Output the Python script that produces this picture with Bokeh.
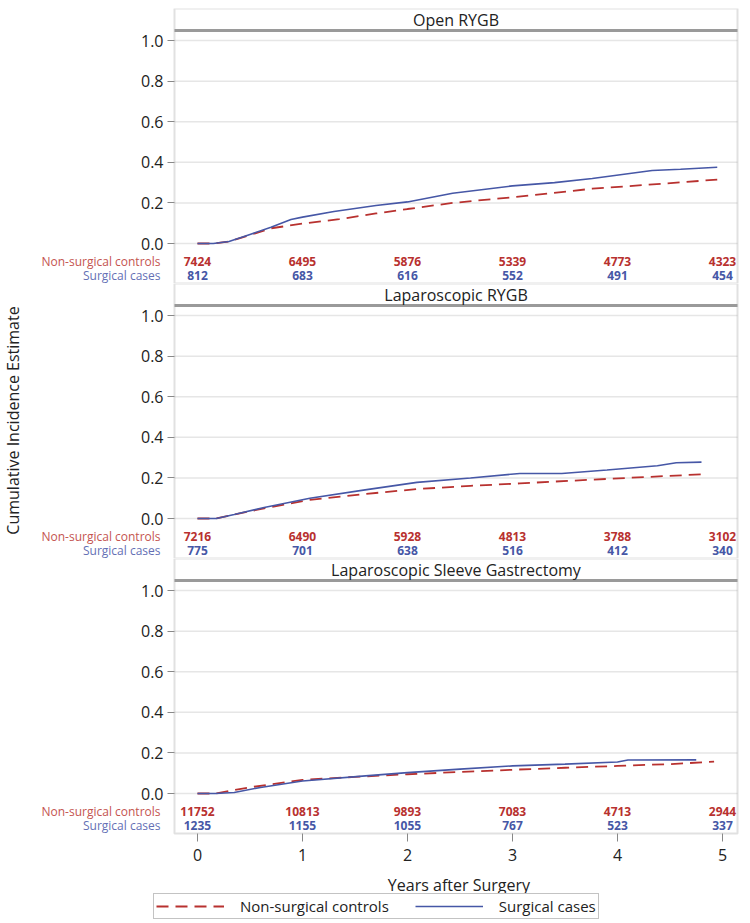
import math
from bokeh.plotting import figure
from bokeh.layouts import column
from bokeh.models import (Range1d, FixedTicker, Label, Legend, LegendItem, LinearAxis,
                          ColumnDataSource, PrintfTickFormatter, BoxAnnotation)
from bokeh.core.properties import value
from bokeh.embed import file_html
from bokeh.resources import INLINE

# ---------------- data ----------------
panel_titles = ["Open RYGB", "Laparoscopic RYGB", "Laparoscopic Sleeve Gastrectomy"]
series_names = ["Non-surgical controls", "Surgical cases"]
risk_times = [0, 1, 2, 3, 4, 5]

# Open RYGB
open_surg_t = [0, 0.15, 0.3, 0.5, 0.7, 0.89, 1.0, 1.3, 1.7, 2.0, 2.43, 3.0, 3.4, 3.76, 4.33, 4.6, 4.95]
open_surg_y = [0, 0, 0.01, 0.045, 0.08, 0.118, 0.13, 0.158, 0.187, 0.205, 0.248, 0.284, 0.30, 0.32, 0.36, 0.366, 0.376]
open_ctrl_t = [0, 0.15, 0.3, 0.5, 0.7, 1.0, 1.35, 1.7, 2.0, 2.43, 3.0, 3.76, 4.3, 4.95]
open_ctrl_y = [0, 0, 0.01, 0.042, 0.075, 0.098, 0.12, 0.148, 0.17, 0.2, 0.228, 0.27, 0.29, 0.315]
open_risk_ctrl = [7424, 6495, 5876, 5339, 4773, 4323]
open_risk_surg = [812, 683, 616, 552, 491, 454]

# Laparoscopic RYGB
lap_surg_t = [0, 0.18, 0.35, 0.635, 1.07, 1.58, 2.09, 2.6, 3.07, 3.47, 3.9, 4.38, 4.56, 4.8]
lap_surg_y = [0, 0, 0.02, 0.054, 0.1, 0.14, 0.178, 0.2, 0.222, 0.222, 0.239, 0.26, 0.275, 0.278]
lap_ctrl_t = [0, 0.18, 0.35, 0.635, 1.07, 1.58, 2.09, 2.6, 3.07, 3.55, 4.09, 4.85]
lap_ctrl_y = [0, 0, 0.02, 0.05, 0.092, 0.12, 0.145, 0.161, 0.173, 0.186, 0.2, 0.219]
lap_risk_ctrl = [7216, 6490, 5928, 4813, 3788, 3102]
lap_risk_surg = [775, 701, 638, 516, 412, 340]

# Laparoscopic Sleeve Gastrectomy
lsg_surg_t = [0, 0.17, 0.35, 0.6, 1.0, 1.6, 2.0, 2.5, 3.0, 3.5, 4.0, 4.1, 4.75]
lsg_surg_y = [0, 0, 0.005, 0.03, 0.062, 0.087, 0.103, 0.12, 0.136, 0.145, 0.155, 0.165, 0.166]
lsg_ctrl_t = [0, 0.17, 0.49, 1.0, 1.5, 2.0, 2.5, 3.0, 3.5, 4.0, 4.5, 4.92]
lsg_ctrl_y = [0, 0, 0.03, 0.067, 0.082, 0.095, 0.106, 0.117, 0.127, 0.136, 0.145, 0.157]
lsg_risk_ctrl = [11752, 10813, 9893, 7083, 4713, 2944]
lsg_risk_surg = [1235, 1155, 1055, 767, 523, 337]

y_ticks = [0.0, 0.2, 0.4, 0.6, 0.8, 1.0]
x_ticks = [0, 1, 2, 3, 4, 5]
x_title = "Years after Surgery"
y_title = "Cumulative Incidence Estimate"

panels = [
    (open_ctrl_t, open_ctrl_y, open_surg_t, open_surg_y, open_risk_ctrl, open_risk_surg),
    (lap_ctrl_t, lap_ctrl_y, lap_surg_t, lap_surg_y, lap_risk_ctrl, lap_risk_surg),
    (lsg_ctrl_t, lsg_ctrl_y, lsg_surg_t, lsg_surg_y, lsg_risk_ctrl, lsg_risk_surg),
]

# ---------------- style / layout ----------------
FONT = "Open Sans"
RED = "#B8312F"
BLUE = "#4657A6"
RED_LBL = "#C45450"
BLUE_LBL = "#6470B5"
GRAY = "#9a9a9a"
TXT = "#222222"
XR = (-1.876, 5.162)           # frame spans the whole width (incl. at-risk labels area)
BOX_L, BOX_R = -0.219, 5.143   # visible panel box
BOX_B, BOX_T = -0.197, 1.158
PX = (BOX_T - BOX_B) / 275.0   # data units per pixel
EXTRA = 90                     # px below last panel for axis, title, legend
ROW1, ROW2 = -0.089, -0.158

figs = []
for i, (ct, cy, st, sy, rc, rs) in enumerate(panels):
    last = (i == 2)
    ybot = BOX_B - EXTRA * PX if last else BOX_B
    p = figure(frame_width=739, frame_height=275 + (EXTRA if last else 0),
               x_range=Range1d(*XR), y_range=Range1d(ybot, BOX_T),
               output_backend="svg", toolbar_location=None,
               x_axis_location=None, y_axis_location=None,
               min_border_left=0, min_border_right=0,
               min_border_top=8 if i == 0 else 0, min_border_bottom=0,
               background_fill_color="white", border_fill_color="white")
    p.outline_line_color = None
    p.grid.visible = False

    # grid lines restricted to the panel box
    p.segment(x0=[BOX_L] * len(y_ticks), x1=[BOX_R] * len(y_ticks), y0=y_ticks, y1=y_ticks,
              line_color="#e6e6e6", line_width=1.5)

    # y axis drawn at the panel's left edge
    ya = LinearAxis(fixed_location=BOX_L)
    ya.ticker = FixedTicker(ticks=y_ticks)
    ya.formatter = PrintfTickFormatter(format="%.1f")
    ya.axis_line_color = None
    ya.major_tick_out = 7
    ya.major_tick_in = 0
    ya.minor_tick_line_color = None
    ya.major_tick_line_color = "#888888"
    ya.major_label_text_font = FONT
    ya.major_label_text_font_size = "16px"
    ya.major_label_text_color = TXT
    ya.major_label_standoff = 4
    p.add_layout(ya, "left")

    if last:
        xa = LinearAxis(fixed_location=BOX_B)
        xa.ticker = FixedTicker(ticks=x_ticks)
        xa.axis_line_color = None
        xa.major_tick_out = 8
        xa.major_tick_in = 0
        xa.minor_tick_line_color = None
        xa.major_tick_line_color = "#888888"
        xa.major_label_text_font = FONT
        xa.major_label_text_font_size = "16px"
        xa.major_label_text_color = TXT
        xa.major_label_standoff = 7
        p.add_layout(xa, "below")
        p.add_layout(Label(x=2.49, y=BOX_B - 51 * PX, text=x_title, text_align="center",
                           text_baseline="middle", text_font=FONT, text_font_size="16px",
                           text_color=TXT))

    # panel box and header strip
    p.add_layout(BoxAnnotation(left=BOX_L, right=BOX_R, bottom=BOX_B, top=BOX_T,
                               fill_alpha=0, line_color=GRAY, line_width=2))
    p.segment(x0=[BOX_L], x1=[BOX_R], y0=[1.049], y1=[1.049], line_color=GRAY, line_width=3)
    p.add_layout(Label(x=2.462, y=1.103, text=panel_titles[i], text_align="center",
                       text_baseline="middle", text_font=FONT, text_font_size="16px",
                       text_color=TXT))

    # curves
    r_ctrl = p.line(ct, cy, line_color=RED, line_width=1.8, line_dash="12 7")
    r_surg = p.line(st, sy, line_color=BLUE, line_width=1.6)

    # at-risk table
    src = ColumnDataSource(dict(x=risk_times, yc=[ROW1] * 6, ys=[ROW2] * 6,
                                tc=[str(v) for v in rc], ts=[str(v) for v in rs]))
    p.text(x="x", y="yc", text="tc", source=src, text_align="center", text_baseline="middle",
           text_font=value(FONT), text_font_size="12px", text_font_style="bold", text_color=RED)
    p.text(x="x", y="ys", text="ts", source=src, text_align="center", text_baseline="middle",
           text_font=value(FONT), text_font_size="12px", text_font_style="bold", text_color=BLUE)
    p.add_layout(Label(x=-0.352, y=ROW1, text=series_names[0], text_align="right",
                       text_baseline="middle", text_font=FONT, text_font_size="12px",
                       text_color=RED_LBL))
    p.add_layout(Label(x=-0.352, y=ROW2, text=series_names[1], text_align="right",
                       text_baseline="middle", text_font=FONT, text_font_size="12px",
                       text_color=BLUE_LBL))

    if i == 1:
        p.add_layout(Label(x=-1.76, y=0.483, text=y_title,
                           angle=math.pi / 2, text_align="center", text_baseline="middle",
                           text_font=FONT, text_font_size="16px", text_color=TXT))
    if last:
        legend = Legend(items=[LegendItem(label=series_names[0], renderers=[r_ctrl]),
                               LegendItem(label=series_names[1], renderers=[r_surg])],
                        location=(153, 4), orientation="horizontal",
                        label_text_font=FONT, label_text_font_size="15px",
                        label_text_color=TXT,
                        glyph_width=68, glyph_height=14, label_height=14,
                        label_standoff=16, spacing=26, padding=2, margin=0,
                        border_line_color="#888888", border_line_width=1.5,
                        background_fill_color="white", background_fill_alpha=1.0)
        p.add_layout(legend, "center")
    figs.append(p)

layout = column(*figs, spacing=0)
open("out.html", "w").write(file_html(layout, INLINE))
